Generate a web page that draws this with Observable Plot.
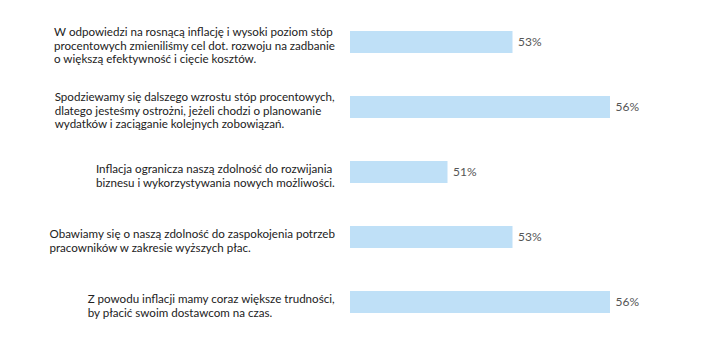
<!DOCTYPE html>
<html>
<head>
<meta charset="utf-8">
<script src="https://cdn.jsdelivr.net/npm/d3@7"></script>
<script src="https://cdn.jsdelivr.net/npm/@observablehq/plot@0.6"></script>
<style>
  html, body { margin: 0; padding: 0; background: #fff; }
</style>
</head>
<body>
<div id="chart"></div>
<script>
const categories = [
  "W odpowiedzi na rosnącą inflację i wysoki poziom stóp\nprocentowych zmieniliśmy cel dot. rozwoju na zadbanie\no większą efektywność i cięcie kosztów.",
  "Spodziewamy się dalszego wzrostu stóp procentowych,\ndlatego jesteśmy ostrożni, jeżeli chodzi o planowanie\nwydatków i zaciąganie kolejnych zobowiązań.",
  "Inflacja ogranicza naszą zdolność do rozwijania\nbiznesu i wykorzystywania nowych możliwości.",
  "Obawiamy się o naszą zdolność do zaspokojenia potrzeb\npracowników w zakresie wyższych płac.",
  "Z powodu inflacji mamy coraz większe trudności,\nby płacić swoim dostawcom na czas."
];
const values = [53, 56, 51, 53, 56];
const valueLabels = ["53%", "56%", "51%", "53%", "56%"];
const xDomain = [48, 58];

const data = categories.map((c, i) => ({label: c, value: values[i], text: valueLabels[i]}));

const chart = Plot.plot({
  width: 710,
  height: 348,
  marginLeft: 350,
  marginRight: 35,
  marginTop: 21.5,
  marginBottom: 24.5,
  style: {fontFamily: "Lato, sans-serif", fontSize: "12px", background: "#fff"},
  x: {domain: xDomain, axis: null},
  y: {domain: categories, axis: null, paddingInner: 0.66, paddingOuter: 0.15},
  marks: [
    Plot.barX(data, {y: "label", x1: xDomain[0], x2: "value", fill: "#bfe0f7"}),
    Plot.text(data, {y: "label", x: "value", text: "text", dx: 5, textAnchor: "start", fill: "#555", fontSize: 12}),
    Plot.text(data, {y: "label", frameAnchor: "left", text: "label", textAnchor: "start", lineAnchor: "middle", dy: 3, fill: "#222", fontSize: 11.6, lineHeight: 1.17})
  ]
});
document.getElementById("chart").appendChild(chart);

// right-align each left-aligned label block 15px before the bars
const groups = chart.querySelectorAll('g[aria-label="text"]');
const labelGroup = groups[groups.length - 1];
const svgLeft = chart.getBoundingClientRect().left;
labelGroup.querySelectorAll("text").forEach(t => {
  const r = t.getBoundingClientRect();
  const shift = 335 - (r.right - svgLeft);
  const tr = t.getAttribute("transform") || "";
  t.setAttribute("transform", `translate(${shift},0) ${tr}`);
});
</script>
</body>
</html>
